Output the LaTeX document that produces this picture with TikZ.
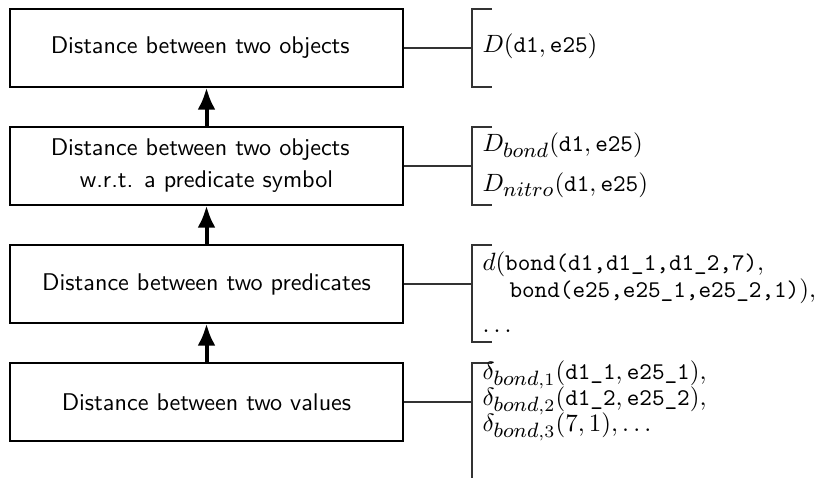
\RequirePackage{fix-cm}
\documentclass[tikz,border=0pt]{standalone}
\usetikzlibrary{arrows.meta}
% typewriter terms and full-height italic indices
\newcommand{\tm}[1]{\mbox{\fontsize{9.6}{12}\selectfont\ttfamily #1}}
\newcommand{\ix}[1]{\mbox{\fontsize{8.3}{10}\selectfont$#1$}}
\begin{document}
\begin{tikzpicture}[x=0.4pt,y=-0.4pt,
  level/.style={draw=black, line width=0.5pt, minimum width=157.2pt,
    minimum height=31.2pt, inner sep=0pt,
    font=\fontsize{9.66}{12.8}\selectfont\sffamily, align=center},
  up/.style={line width=1.6pt, -{Latex[length=8.8pt,width=7.2pt]}},
  link/.style={draw=black!80, line width=0.45pt},
  txt/.style={anchor=base west, inner sep=0pt, font=\normalsize}]
\useasboundingbox (0,0) rectangle (821,478);

% the four levels
\node[level] (obj)  at (206.5,48)  {Distance between two objects\kern5pt};
\node[level] (pred) at (206.5,166) {Distance between two objects\kern5pt\\w.r.t. a predicate symbol};
\node[level] (atom) at (206.5,284) {Distance between two predicates};
\node[level] (val)  at (206.5,402) {Distance between two values};

% each level builds on the one below
\draw[up] (val.north)  -- (atom.south);
\draw[up] (atom.north) -- (pred.south);
\draw[up] (pred.north) -- (obj.south);

% brackets holding the examples
\coordinate (bo) at (472,48);
\coordinate (bp) at (472,166);
\coordinate (ba) at (472,284);
\coordinate (bv) at (472,402);
\draw[link] (obj.east)  -- (bo);
\draw[link] (pred.east) -- (bp);
\draw[link] (atom.east) -- (ba);
\draw[link] (val.east)  -- (bv);
\draw[link] (492,9)   -| (472,87)  -- (492,87);
\draw[link] (492,127) -| (472,205) -- (492,205);
\draw[link] (492,245) -| (472,342) -- (492,342);
\draw[link] (492,363) -| (472,478);

% examples
\node[txt] (eo)  at (482,53)    {$D(\tm{d1},\tm{e25})$};
\node[txt] (ep1) at (482,152)   {$D_{\ix{bond}}(\tm{d1},\tm{e25})$};
\node[txt] (ep2) at (482,191.5) {$D_{\ix{nitro}}(\tm{d1},\tm{e25})$};
\node[txt] (ea1) at (482,271)   {$d(\tm{bond(d1,d1\_1,d1\_2,7)},$};
\node[txt] (ea2) at (509,298)   {$\tm{bond(e25,e25\_1,e25\_2,1)}),$};
\node[txt] (ea3) at (482,333)   {$\ldots$};
\node[txt] (ev1) at (482,380)   {$\delta_{\ix{bond},1}(\tm{d1\_1},\tm{e25\_1}),$};
\node[txt] (ev2) at (482,406)   {$\delta_{\ix{bond},2}(\tm{d1\_2},\tm{e25\_2}),$};
\node[txt] (ev3) at (482,432)   {$\delta_{\ix{bond},3}(7,1),\ldots$};
\end{tikzpicture}
\end{document}
